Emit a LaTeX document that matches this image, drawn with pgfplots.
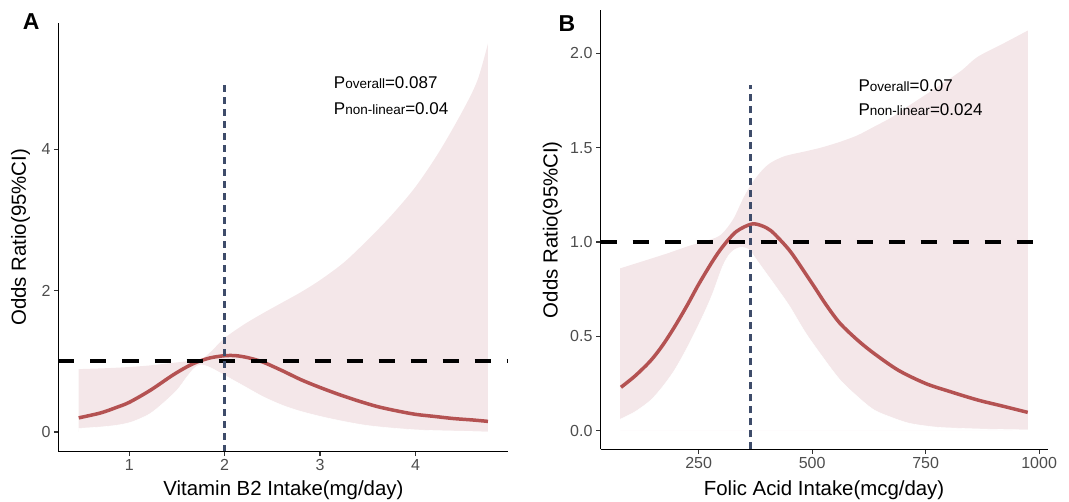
\documentclass[border=0pt]{standalone}
\usepackage{pgfplots}
\pgfplotsset{compat=1.18}
\usepackage{fontspec}
\setmainfont{Liberation Sans}

\definecolor{bandpink}{RGB}{244,231,233}
\definecolor{curvered}{RGB}{180,82,82}
\definecolor{refblue}{RGB}{62,76,106}
\definecolor{tickgray}{RGB}{77,77,77}

\pgfplotsset{
  rcsplot/.style={
    scale only axis, anchor=south west, axis on top,
    axis x line*=bottom, axis y line*=left,
    axis line style={black, line width=1.3pt},
    tick align=outside, major tick length=4.5pt,
    tick style={line width=1.2pt, black!80},
    tick label style={font=\fontsize{16}{16}\selectfont, text=tickgray},
    /pgf/number format/assume math mode=true,
    label style={font=\fontsize{20.4}{20.4}\selectfont},
  },
  % CI band = pink area under the upper limit, then white area under the lower limit
  bandup/.style={fill=bandpink, draw=none, smooth},
  bandlo/.style={fill=white, draw=white, line width=0.6pt, smooth},
  fit/.style={curvered, line width=3.5pt, smooth},
  hline/.style={black, line width=4pt, dash pattern=on 16pt off 16pt},
  vline/.style={refblue, line width=2.8pt, dash pattern=on 7pt off 5pt},
}
\tikzset{pnote/.style={anchor=west, inner sep=0pt, font=\fontsize{17}{17}\selectfont}}
\newcommand{\sub}[1]{{\fontsize{13.5}{13.5}\selectfont #1}}

\begin{document}
\begin{tikzpicture}
\path[use as bounding box] (0,0) rectangle (1069pt,502pt);

% panel A: vitamin B2
\begin{axis}[rcsplot,
    at={(58.5pt,50.3pt)}, width=449.9pt, height=428.7pt,
    xmin=0.258, xmax=4.974, ymin=-0.279, ymax=5.79,
    xtick={1,2,3,4}, ytick={0,2,4},
    xlabel={Vitamin B2 Intake(mg/day)},
    ylabel={Odds Ratio(95\%CI)},
    xlabel style={at={([yshift=-38.3pt]axis description cs:0.5,0)}, anchor=center},
    ylabel style={at={([xshift=-37.9pt]axis description cs:0,0.5)}, anchor=center},
]
\addplot[bandup] coordinates {
(0.47,0.89) (0.7,0.90) (0.87,0.91) (1.0,0.92) (1.2,0.94) (1.4,0.97)
(1.6,1.0) (1.75,1.03) (1.85,1.13) (2.0,1.33) (2.2,1.52) (2.4,1.68)
(2.6,1.83) (2.8,1.98) (3.0,2.15) (3.25,2.40) (3.5,2.72) (3.75,3.07)
(4.0,3.47) (4.25,3.97) (4.5,4.56) (4.65,4.98) (4.76,5.50)
} \closedcycle;
\addplot[bandlo] coordinates {
(0.47,0.05) (0.7,0.07) (0.87,0.095) (1.0,0.13) (1.1,0.18) (1.22,0.26)
(1.35,0.40) (1.5,0.59) (1.6,0.77) (1.68,0.90) (1.75,0.95) (1.85,0.91)
(2.0,0.80) (2.2,0.65) (2.4,0.50) (2.6,0.38) (2.8,0.29) (3.1,0.19)
(3.5,0.09) (4.0,0.03) (4.5,0.01) (4.76,0.0)
} \closedcycle;
\addplot[fit] coordinates {
(0.47,0.20) (0.7,0.27) (0.87,0.35) (1.0,0.42) (1.22,0.59) (1.45,0.80)
(1.6,0.92) (1.71,0.99) (1.85,1.05) (2.0,1.08) (2.12,1.08) (2.25,1.05)
(2.4,0.99) (2.6,0.87) (2.8,0.74) (3.0,0.63) (3.2,0.53) (3.4,0.44)
(3.6,0.36) (3.8,0.30) (4.0,0.25) (4.2,0.22) (4.4,0.19) (4.6,0.17)
(4.76,0.15)
};
\addplot[hline] coordinates {(0.258,1) (4.974,1)};
\addplot[vline] coordinates {(2,-0.279) (2,4.915)};
\node[pnote] at (axis cs:3.143,4.95) {P\sub{overall}=0.087};
\node[pnote] at (axis cs:3.143,4.58) {P\sub{non-linear}=0.04};
\end{axis}

% panel B: folic acid
\begin{axis}[rcsplot,
    at={(600.5pt,52.7pt)}, width=447.2pt, height=439.3pt,
    xmin=33.9, xmax=1018.9, ymin=-0.0986, ymax=2.229,
    xtick={250,500,750,1000}, xticklabels={250,500,750,1000},
    ytick={0,0.5,1,1.5,2}, yticklabels={0.0,0.5,1.0,1.5,2.0},
    xlabel={Folic Acid Intake(mcg/day)},
    ylabel={Odds Ratio(95\%CI)},
    xlabel style={at={([yshift=-40.7pt]axis description cs:0.5,0)}, anchor=center},
    ylabel style={at={([xshift=-48.1pt]axis description cs:0,0.5)}, anchor=center},
]
\addplot[bandup] coordinates {
(77,0.86) (130,0.90) (182,0.94) (230,0.98) (273,1.01) (300,1.04)
(326,1.12) (350,1.24) (370,1.32) (390,1.38) (409,1.42) (440,1.455)
(485,1.48) (520,1.50) (561,1.53) (600,1.565) (636,1.61) (675,1.66)
(712,1.72) (750,1.78) (788,1.84) (830,1.91) (864,1.98) (920,2.05)
(975,2.12)
} \closedcycle;
\addplot[bandlo] coordinates {
(77,0.06) (110,0.10) (144,0.16) (170,0.23) (197,0.32) (225,0.44)
(258,0.60) (280,0.72) (303,0.87) (320,0.94) (340,0.97) (360,0.96)
(379,0.90) (400,0.83) (424,0.75) (450,0.66) (485,0.52) (520,0.40)
(561,0.27) (600,0.18) (636,0.11) (675,0.07) (712,0.04) (750,0.025)
(788,0.016) (880,0.008) (975,0.004)
} \closedcycle;
\addplot[fit] coordinates {
(79,0.23) (110,0.29) (144,0.37) (170,0.45) (197,0.55) (225,0.665)
(250,0.775) (280,0.895) (303,0.975) (333,1.055) (367,1.095) (390,1.085)
(409,1.06) (430,1.01) (455,0.94) (500,0.78) (530,0.67) (561,0.57)
(600,0.48) (636,0.41) (690,0.32) (750,0.25) (800,0.21) (864,0.163)
(920,0.13) (975,0.097)
};
\addplot[hline] coordinates {(33.9,1) (1018.9,1)};
\addplot[vline] coordinates {(365,-0.0986) (365,1.832)};
\node[pnote] at (axis cs:602,1.83) {P\sub{overall}=0.07};
\node[pnote] at (axis cs:602,1.70) {P\sub{non-linear}=0.024};
\end{axis}

\node[font=\bfseries\fontsize{23}{23}\selectfont] at (31.3pt,480pt) {A};
\node[font=\bfseries\fontsize{23}{23}\selectfont] at (567pt,478.2pt) {B};
\end{tikzpicture}
\end{document}
